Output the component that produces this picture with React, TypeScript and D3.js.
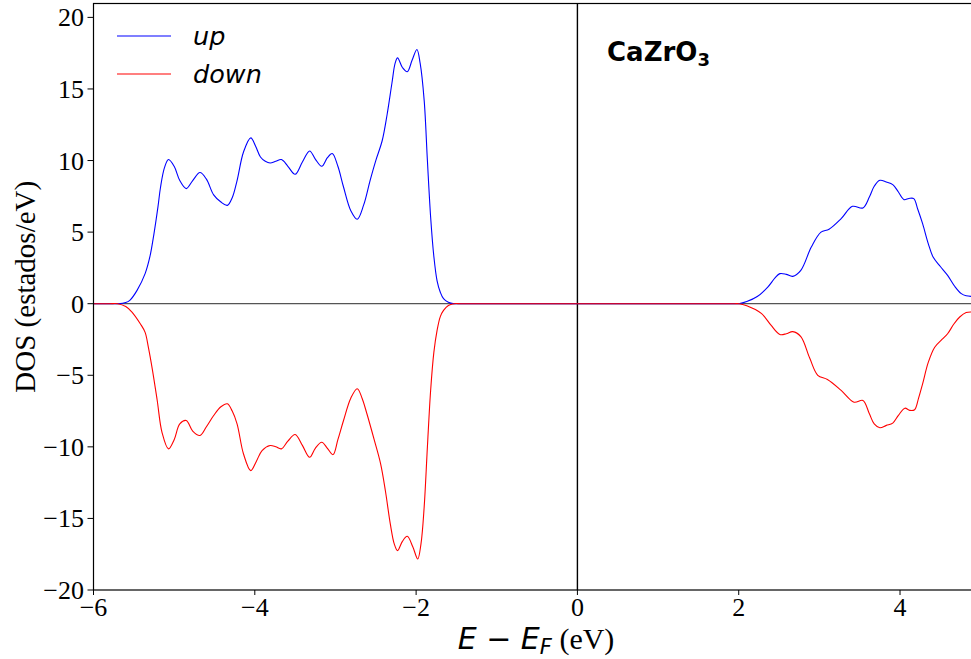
import React from "react";
import * as d3 from "d3";

const upE = [-6, -5.8, -5.7, -5.6, -5.55, -5.46, -5.36, -5.3, -5.25, -5.2, -5.17, -5.12, -5.07, -5.0, -4.93, -4.85, -4.77, -4.68, -4.6, -4.51, -4.42, -4.34, -4.28, -4.22, -4.14, -4.05, -3.99, -3.93, -3.87, -3.81, -3.74, -3.67, -3.59, -3.5, -3.41, -3.32, -3.25, -3.17, -3.1, -3.04, -2.97, -2.9, -2.81, -2.73, -2.65, -2.57, -2.5, -2.42, -2.36, -2.3, -2.26, -2.23, -2.17, -2.11, -2.05, -1.99, -1.95, -1.9, -1.86, -1.82, -1.78, -1.74, -1.7, -1.66, -1.6, -1.53, -1.45, -1.3, -1.0, 0, 1.0, 1.7, 1.85, 1.95, 2.0, 2.1, 2.23, 2.36, 2.45, 2.51, 2.59, 2.67, 2.77, 2.9, 3.02, 3.12, 3.27, 3.41, 3.54, 3.62, 3.68, 3.75, 3.83, 3.91, 3.98, 4.05, 4.11, 4.17, 4.22, 4.28, 4.35, 4.41, 4.5, 4.59, 4.68, 4.76, 4.82, 4.88];
const upDOS = [0, 0, 0, 0.08, 0.23, 0.93, 2.1, 3.3, 4.9, 6.8, 8.1, 9.5, 10.07, 9.6, 8.6, 8.04, 8.6, 9.16, 8.7, 7.6, 7.1, 6.87, 7.4, 8.6, 10.6, 11.58, 11.0, 10.25, 9.95, 9.83, 9.95, 10.07, 9.6, 9.04, 9.9, 10.67, 10.1, 9.6, 10.2, 10.49, 9.6, 8.15, 6.5, 5.9, 6.9, 8.62, 10.0, 11.4, 13.2, 15.4, 16.8, 17.17, 16.5, 16.2, 17.0, 17.76, 16.8, 14.2, 10.0, 6.06, 3.3, 1.6, 0.8, 0.35, 0.1, 0, 0, 0, 0, 0, 0, 0, 0, 0, 0, 0.15, 0.5, 1.16, 1.8, 2.1, 2.05, 1.91, 2.33, 3.96, 5.0, 5.2, 5.94, 6.8, 6.69, 7.45, 8.2, 8.62, 8.5, 8.32, 7.8, 7.27, 7.35, 7.34, 6.6, 5.59, 4.2, 3.26, 2.6, 1.98, 1.2, 0.7, 0.55, 0.51];

const downE = [-6, -5.8, -5.7, -5.6, -5.52, -5.42, -5.36, -5.32, -5.27, -5.21, -5.15, -5.07, -5.0, -4.93, -4.85, -4.77, -4.68, -4.6, -4.51, -4.42, -4.34, -4.28, -4.22, -4.14, -4.05, -3.98, -3.91, -3.81, -3.74, -3.67, -3.59, -3.5, -3.41, -3.32, -3.25, -3.17, -3.1, -3.03, -2.97, -2.9, -2.81, -2.73, -2.67, -2.61, -2.52, -2.44, -2.38, -2.32, -2.27, -2.23, -2.17, -2.11, -2.04, -1.98, -1.94, -1.9, -1.86, -1.82, -1.78, -1.74, -1.7, -1.66, -1.6, -1.53, -1.45, -1.3, -1.0, 0, 1.0, 1.7, 1.85, 1.95, 2.0, 2.1, 2.28, 2.4, 2.51, 2.59, 2.67, 2.77, 2.88, 2.98, 3.1, 3.27, 3.43, 3.54, 3.62, 3.68, 3.75, 3.83, 3.91, 3.98, 4.06, 4.12, 4.18, 4.23, 4.28, 4.35, 4.43, 4.52, 4.59, 4.67, 4.74, 4.82, 4.88];
const downDOS = [0, 0, 0, -0.2, -0.6, -1.4, -2.0, -3.03, -4.6, -6.76, -9.0, -10.14, -9.5, -8.4, -8.16, -8.9, -9.21, -8.6, -7.81, -7.2, -6.99, -7.5, -8.39, -10.5, -11.66, -11.0, -10.26, -9.91, -10.0, -10.14, -9.6, -9.14, -9.9, -10.73, -10.1, -9.68, -10.1, -10.54, -9.5, -8.16, -6.6, -5.94, -6.6, -7.69, -9.5, -11.19, -13.1, -15.38, -16.8, -17.25, -16.6, -16.25, -17.0, -17.83, -16.8, -14.2, -10.0, -6.06, -3.4, -1.87, -0.9, -0.47, -0.12, 0, 0, 0, 0, 0, 0, 0, 0, 0, 0, -0.15, -0.68, -1.5, -2.15, -2.1, -1.95, -2.3, -3.8, -5.0, -5.3, -6.06, -6.88, -6.76, -7.69, -8.4, -8.67, -8.5, -8.34, -7.8, -7.3, -7.45, -7.41, -6.6, -5.6, -4.1, -3.04, -2.5, -2.1, -1.4, -0.93, -0.62, -0.58];

const xTicks = [-6, -4, -2, 0, 2, 4];
const yTicks = [-20, -15, -10, -5, 0, 5, 10, 15, 20];
const seriesNames = ["up", "down"];
const title = "CaZrO";

const W = 971, H = 659;
const L = 93.5, R = 971, T = 3.5, B = 590;

export default function App() {
  const x = d3.scaleLinear().domain([-6, 4.88]).range([L, R]);
  const y = d3.scaleLinear().domain([-20, 20.97]).range([B, T]);
  const line = d3.line<[number, number]>().x(d => x(d[0])).y(d => y(d[1])).curve(d3.curveCatmullRom.alpha(0.5));
  const upPts = upE.map((e, i) => [e, upDOS[i]] as [number, number]);
  const downPts = downE.map((e, i) => [e, downDOS[i]] as [number, number]);
  const fmt = (v: number) => (v < 0 ? "\u2212" + Math.abs(v) : String(v));
  const serif = "'Liberation Serif', 'Times New Roman', serif";
  const sans = "'DejaVu Sans', sans-serif";
  return (
    <svg width={W} height={H} style={{ position: "absolute", left: 0, top: 0, background: "#fff" }}>
      <defs>
        <clipPath id="clip"><rect x={L} y={T} width={R - L} height={B - T} /></clipPath>
      </defs>
      <g clipPath="url(#clip)">
        <line x1={L} x2={R} y1={y(0)} y2={y(0)} stroke="#555" strokeWidth={1.2} />
        <line x1={x(0)} x2={x(0)} y1={T} y2={B} stroke="#000" strokeWidth={1.4} />
        <path d={line(upPts) || ""} fill="none" stroke="#0000ff" strokeWidth={1.1} />
        <path d={line(downPts) || ""} fill="none" stroke="#ff0000" strokeWidth={1.1} />
      </g>
      <rect x={L} y={T} width={R - L + 2} height={B - T} fill="none" stroke="#000" strokeWidth={1.2} />
      {xTicks.map(t => (
        <g key={"x" + t}>
          <line x1={x(t)} x2={x(t)} y1={B} y2={B + 5} stroke="#000" strokeWidth={1} />
          <text x={x(t)} y={616} textAnchor="middle" fontFamily={serif} fontSize={26}>{fmt(t)}</text>
        </g>
      ))}
      {yTicks.map(t => (
        <g key={"y" + t}>
          <line x1={L - 6} x2={L} y1={y(t)} y2={y(t)} stroke="#000" strokeWidth={1} />
          <text x={84} y={y(t) + 9} textAnchor="end" fontFamily={serif} fontSize={26}>{fmt(t)}</text>
        </g>
      ))}
      <text transform={`translate(35,${(T + B) / 2 - 10}) rotate(-90)`} textAnchor="middle" fontFamily={serif} fontSize={29}>DOS (estados/eV)</text>
      <text x={536} y={649} textAnchor="middle" fontSize={30}>
        <tspan fontFamily={sans} fontStyle="italic">E</tspan>
        <tspan fontFamily={sans}> {"\u2212"} </tspan>
        <tspan fontFamily={sans} fontStyle="italic">E</tspan>
        <tspan fontFamily={sans} fontStyle="italic" fontSize={21} dy={5}>F</tspan>
        <tspan fontFamily={serif} dy={-5}> (eV)</tspan>
      </text>
      <line x1={117} x2={171} y1={36} y2={36} stroke="#0000ff" strokeWidth={1.1} />
      <line x1={117} x2={171} y1={74} y2={74} stroke="#ff0000" strokeWidth={1.1} />
      <text x={193} y={45} fontFamily={sans} fontStyle="italic" fontSize={25.5}>{seriesNames[0]}</text>
      <text x={193} y={83} fontFamily={sans} fontStyle="italic" fontSize={25.5}>{seriesNames[1]}</text>
      <text x={607} y={61} fontFamily={sans} fontWeight="bold" fontSize={26}>
        {title}<tspan fontSize={18} dy={5}>3</tspan>
      </text>
    </svg>
  );
}
